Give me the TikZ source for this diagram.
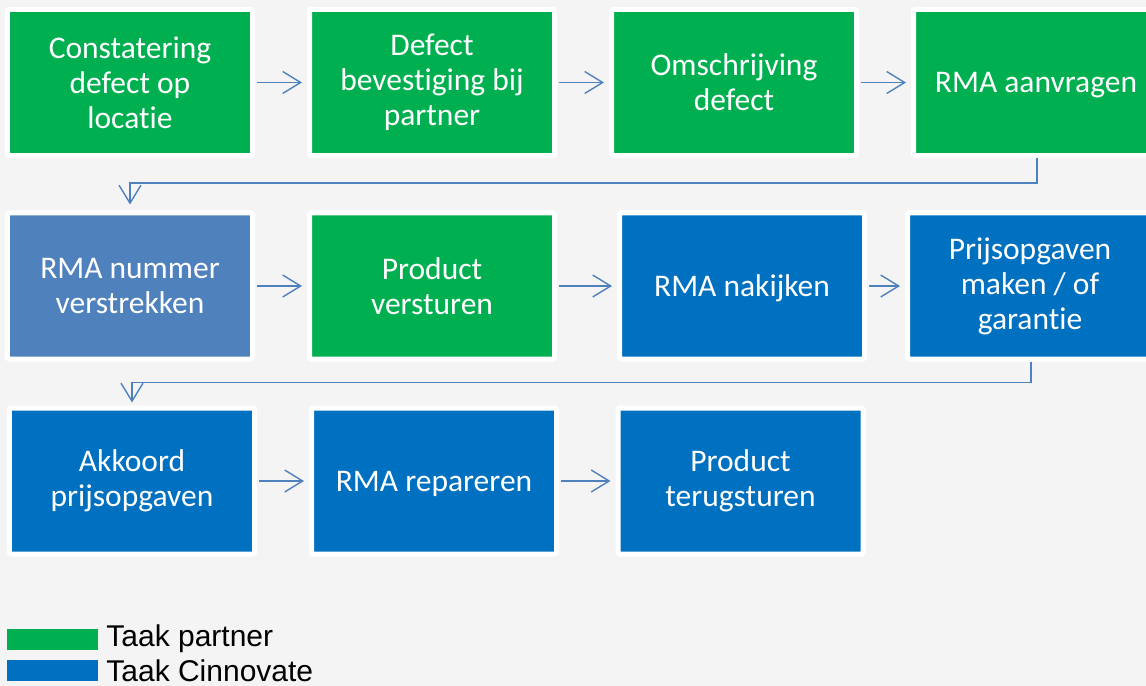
\documentclass[tikz,border=0pt]{standalone}
\usepackage{fontspec}
\setmainfont[Ligatures={NoCommon}]{Carlito}
\newfontfamily\legendfont{Liberation Sans}
\usetikzlibrary{arrows.meta, positioning}
\definecolor{partnergreen}{HTML}{00B050}
\definecolor{cinnoblue}{HTML}{0070C0}
\definecolor{rmablue}{HTML}{4F81BD}
\definecolor{bggray}{HTML}{F4F4F4}
\tikzstyle{task} = [rectangle, draw=white, line width=5bp, rounded corners=1.5bp, minimum width=245bp, minimum height=146bp, inner sep=0pt, text=white, align=center, font=\fontsize{31.5bp}{35bp}\selectfont]
\tikzstyle{partner} = [task, fill=partnergreen]
\tikzstyle{cinno} = [task, fill=cinnoblue]
\tikzstyle{oneline} = [align=none, text height=22bp, text depth=2bp]
\tikzstyle{arrow} = [draw=rmablue, line width=1.4bp, -{Straight Barb[length=18bp, width=22bp, line width=1.4bp]}, shorten <=2bp, shorten >=5bp]
\tikzstyle{legbox} = [rectangle, minimum width=91bp, minimum height=21bp, inner sep=0pt]
\tikzstyle{legtext} = [inner sep=0pt, font=\legendfont\fontsize{30bp}{30bp}\selectfont]

\begin{document}
\begin{tikzpicture}[x=1bp, y=-1bp]

   % Background and page size
   \fill[bggray] (0,0) rectangle (1146,686);
   \useasboundingbox (0,0) rectangle (1146,686);

   % First row
   \node[partner] (constatering) at (130,82.5) {Constatering\\defect op\\locatie};
   \node[partner] (bevestiging) at (432,82.5) {Defect\\bevestiging bij\\partner};
   \node[partner] (omschrijving) at (734,82.5) {Omschrijving\\defect};
   \node[partner, oneline] (aanvragen) at (1036,82.5) {RMA aanvragen};

   % Second row
   \node[task, fill=rmablue] (nummer) at (130,286) {RMA nummer\\verstrekken};
   \node[partner] (versturen) at (432,286) {Product\\versturen};
   \node[cinno, oneline] (nakijken) at (742,286) {RMA nakijken};
   \node[cinno] (prijsopgaven) at (1030,286) {Prijsopgaven\\maken / of\\garantie};

   % Third row
   \node[cinno] (akkoord) at (132,481) {Akkoord\\prijsopgaven};
   \node[cinno, oneline] (repareren) at (434,481) {RMA repareren};
   \node[cinno] (terugsturen) at (740.5,481) {Product\\terugsturen};

   % Arrows within the rows
   \draw[arrow] (constatering) -- (bevestiging);
   \draw[arrow] (bevestiging) -- (omschrijving);
   \draw[arrow] (omschrijving) -- (aanvragen);
   \draw[arrow] (nummer) -- (versturen);
   \draw[arrow] (versturen) -- (nakijken);
   \draw[arrow] (nakijken) -- (prijsopgaven);
   \draw[arrow] (akkoord) -- (repareren);
   \draw[arrow] (repareren) -- (terugsturen);

   % Arrows to the next row
   \draw[arrow, shorten <=0bp, shorten >=6bp] ([xshift=1bp]aanvragen.south) |- ++(0,25) -| (nummer.north);
   \draw[arrow, shorten <=0bp, shorten >=3bp] ([xshift=1bp]prijsopgaven.south) |- ++(0,21) -| (akkoord.north);

   % Legend
   \node[legbox, fill=partnergreen] (legpartner) at (52.5,639) {};
   \node[legbox, fill=cinnoblue] (legcinno) at (52.5,670.5) {};
   \node[legtext, right=8bp of legpartner] (txtpartner) {Taak partner};
   \node[legtext, right=8bp of legcinno] (txtcinno) {Taak Cinnovate};

\end{tikzpicture}
\end{document}
